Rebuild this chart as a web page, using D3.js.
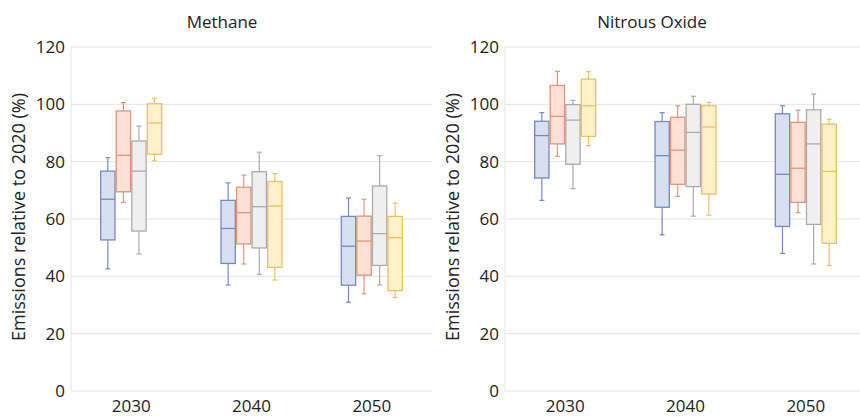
<!DOCTYPE html>
<html>
<head>
<meta charset="utf-8">
<script src="https://cdn.jsdelivr.net/npm/d3@7"></script>
<style>
  body { margin: 0; background: #fff; }
  text { font-family: "Open Sans", "Noto Sans", sans-serif; fill: #222; }
</style>
</head>
<body>
<svg id="chart" width="860" height="417"></svg>
<script>
// categories and series
const years = ["2030", "2040", "2050"];
const scenarios = ["s1", "s2", "s3", "s4"];
const yTicks = [0, 20, 40, 60, 80, 100, 120];

// [whisker low, q1, median, q3, whisker high] per year, per scenario
const methane = [
    [[42.6, 52.7, 66.9, 76.7, 81.4], [65.8, 69.5, 82.2, 97.7, 100.6], [47.8, 55.8, 76.7, 87.2, 92.4], [80.3, 82.6, 93.5, 100.2, 102.1]],
    [[37.0, 44.5, 56.7, 66.5, 72.6], [44.3, 51.3, 62.2, 71.1, 75.3], [40.7, 49.9, 64.3, 76.5, 83.3], [38.7, 43.1, 64.5, 73.1, 75.8]],
    [[31.0, 36.9, 50.5, 60.9, 67.3], [33.9, 40.4, 52.3, 61.0, 66.9], [37.0, 43.8, 54.9, 71.5, 82.1], [32.6, 35.0, 53.5, 60.9, 65.5]]
];
const nitrous = [
    [[66.5, 74.3, 89.1, 94.1, 97.1], [81.9, 86.2, 95.8, 106.6, 111.5], [70.6, 79.1, 94.5, 99.9, 101.4], [85.6, 88.8, 99.5, 108.8, 111.4]],
    [[54.5, 64.1, 82.1, 94.0, 97.1], [67.9, 72.1, 84.0, 95.5, 99.5], [61.0, 71.3, 90.2, 100.0, 102.8], [61.3, 68.7, 92.1, 99.5, 100.7]],
    [[48.0, 57.4, 75.6, 96.7, 99.5], [62.2, 65.8, 77.7, 93.7, 98.0], [44.3, 58.1, 86.2, 98.1, 103.6], [43.8, 51.5, 76.6, 93.1, 94.8]]
];

const strokes = ["#7489c6", "#e3957a", "#ababab", "#ecc25e"];
const fills = ["#d8dff1", "#fbe1d6", "#efefef", "#fcf1c9"];

const svg = d3.select("#chart");

const y = d3.scaleLinear().domain([0, 120]).range([391, 47]);

function drawPanel(title, data, x0, x1, titleX) {
    let g = svg.append("g");

    let x = d3.scaleBand().domain(years).range([x0, x1]).padding(0);
    let xs = d3.scaleBand().domain(scenarios).range([-30.5, 30.5]).paddingInner(0.08);

    // grid
    g.selectAll(".grid")
        .data(yTicks)
        .enter()
        .append("line")
        .attr("x1", x0)
        .attr("x2", Math.min(x1, 860))
        .attr("y1", d => y(d))
        .attr("y2", d => y(d))
        .attr("stroke", "#e4e4e4")
        .attr("stroke-width", 1);

    g.append("line")
        .attr("x1", x0).attr("x2", x0)
        .attr("y1", y(120)).attr("y2", y(0))
        .attr("stroke", "#e4e4e4");

    // y tick labels
    g.selectAll(".ytick")
        .data(yTicks)
        .enter()
        .append("text")
        .attr("x", x0 - 6)
        .attr("y", d => y(d))
        .attr("dy", "0.36em")
        .attr("text-anchor", "end")
        .style("font-size", "17px")
        .text(d => d);

    // x tick labels
    g.selectAll(".xtick")
        .data(years)
        .enter()
        .append("text")
        .attr("x", d => x(d) + x.bandwidth() / 2)
        .attr("y", 412)
        .attr("text-anchor", "middle")
        .style("font-size", "17px")
        .text(d => d);

    // y axis title
    g.append("text")
        .attr("transform", "translate(" + (x0 - 46) + "," + 217 + ") rotate(-90)")
        .attr("text-anchor", "middle")
        .style("font-size", "18px")
        .text("Emissions relative to 2020 (%)");

    g.append("text")
        .attr("x", titleX)
        .attr("y", 28)
        .attr("text-anchor", "middle")
        .style("font-size", "17px")
        .text(title);

    let bw = xs.bandwidth();
    years.forEach(function (yr, yi) {
        let grp = g.append("g")
            .attr("transform", "translate(" + (x(yr) + x.bandwidth() / 2) + ",0)");
        let boxes = grp.selectAll(".box")
            .data(data[yi])
            .enter()
            .append("g");

        // whiskers
        boxes.append("line")
            .attr("x1", (d, i) => xs(scenarios[i]) + bw / 2)
            .attr("x2", (d, i) => xs(scenarios[i]) + bw / 2)
            .attr("y1", d => y(d[0]))
            .attr("y2", d => y(d[4]))
            .attr("stroke", (d, i) => strokes[i])
            .attr("stroke-width", 1.2);

        [0, 4].forEach(function (k) {
            boxes.append("line")
                .attr("x1", (d, i) => xs(scenarios[i]) + bw / 2 - 2.5)
                .attr("x2", (d, i) => xs(scenarios[i]) + bw / 2 + 2.5)
                .attr("y1", d => y(d[k]))
                .attr("y2", d => y(d[k]))
                .attr("stroke", (d, i) => strokes[i])
                .attr("stroke-width", 1.2);
        });

        boxes.append("rect")
            .attr("x", (d, i) => xs(scenarios[i]))
            .attr("width", bw)
            .attr("y", d => y(d[3]))
            .attr("height", d => y(d[1]) - y(d[3]))
            .attr("fill", (d, i) => fills[i])
            .attr("stroke", (d, i) => strokes[i])
            .attr("stroke-width", 1.3);

        boxes.append("line")
            .attr("x1", (d, i) => xs(scenarios[i]))
            .attr("x2", (d, i) => xs(scenarios[i]) + bw)
            .attr("y1", d => y(d[2]))
            .attr("y2", d => y(d[2]))
            .attr("stroke", (d, i) => strokes[i])
            .attr("stroke-width", 1.3);
    });
}

drawPanel("Methane", methane, 71, 432, 222);
drawPanel("Nitrous Oxide", nitrous, 505, 866, 652);
</script>
</body>
</html>
